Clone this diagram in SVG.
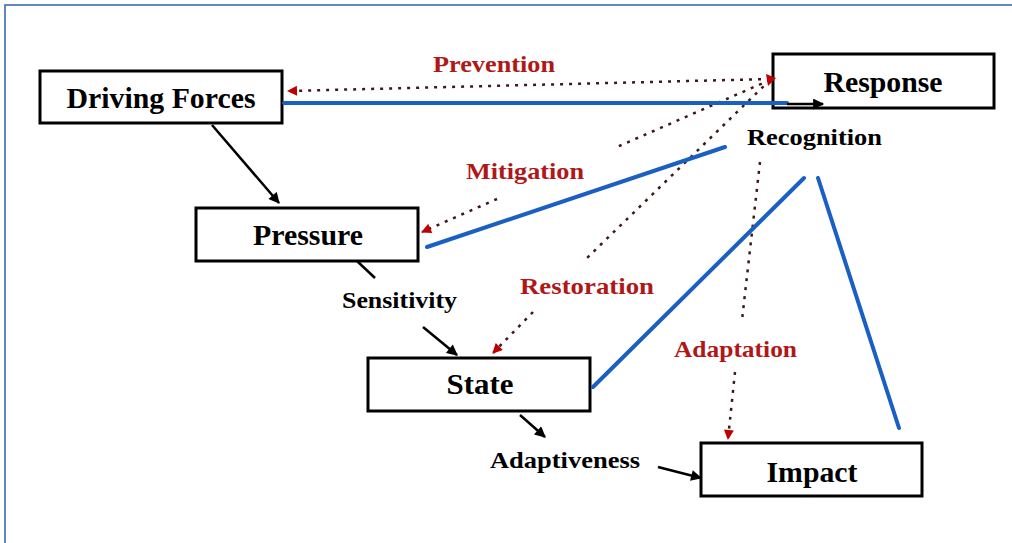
<svg xmlns="http://www.w3.org/2000/svg" width="1012" height="543" viewBox="0 0 1012 543">
<defs>
<style>
.box{fill:#fff;stroke:#000;stroke-width:3}
.nt{font-family:"Liberation Serif","Times New Roman",serif;font-weight:bold;font-size:29px;fill:#000;text-anchor:middle}
.lb{font-family:"Liberation Serif","Times New Roman",serif;font-weight:bold;font-size:24px;fill:#000}
.rl{font-family:"Liberation Serif","Times New Roman",serif;font-weight:bold;font-size:24px;fill:#b01818}
.blue{stroke:#1a5fc4;stroke-width:4;fill:none;stroke-linecap:round}
.blk{stroke:#000;stroke-width:2.5;fill:none}
.dot{stroke:#3e1818;stroke-width:2.5;fill:none;stroke-dasharray:3 6}
</style>
<marker id="ab" viewBox="0 0 10 10" refX="9" refY="5" markerWidth="13" markerHeight="11" markerUnits="userSpaceOnUse" orient="auto"><path d="M0,0 L10,5 L0,10 z" fill="#000"/></marker>
<marker id="ar" viewBox="0 0 10 10" refX="9" refY="5" markerWidth="11" markerHeight="10" markerUnits="userSpaceOnUse" orient="auto"><path d="M0,0 L10,5 L0,10 z" fill="#c00000"/></marker>
</defs>
<rect width="1012" height="543" fill="#fff"/>
<path d="M5,543 V5 H1012" fill="none" stroke="#3060b0" stroke-width="1.5"/>

<g id="driving-forces"><rect class="box" x="40" y="71" width="242" height="52"/><text class="nt" x="161" y="108" textLength="189" lengthAdjust="spacingAndGlyphs">Driving Forces</text></g>
<g id="response"><rect class="box" x="773" y="54" width="221" height="54"/><text class="nt" x="883" y="92" textLength="119" lengthAdjust="spacingAndGlyphs">Response</text></g>
<g id="pressure"><rect class="box" x="196" y="208" width="222" height="53"/><text class="nt" x="308" y="245" textLength="110" lengthAdjust="spacingAndGlyphs">Pressure</text></g>
<g id="state"><rect class="box" x="368" y="358" width="222" height="53"/><text class="nt" x="480" y="394" textLength="67" lengthAdjust="spacingAndGlyphs">State</text></g>
<g id="impact"><rect class="box" x="701" y="443" width="221" height="53"/><text class="nt" x="812" y="482" textLength="91" lengthAdjust="spacingAndGlyphs">Impact</text></g>

<g id="connectors">
<line class="dot" x1="770" y1="79" x2="288" y2="91" marker-end="url(#ar)"/>
<line class="dot" x1="770" y1="80" x2="617" y2="147"/>
<line class="dot" x1="497" y1="199" x2="422" y2="232" marker-end="url(#ar)"/>
<line class="dot" x1="770" y1="80" x2="587" y2="258"/>
<line class="dot" x1="533" y1="312" x2="493" y2="353" marker-end="url(#ar)"/>
<line class="dot" x1="760" y1="162" x2="742" y2="320"/>
<line class="dot" x1="735" y1="372" x2="728" y2="439" marker-end="url(#ar)"/>
<path d="M766,74 L776,78 L768,86 z" fill="#c00000"/>
<line class="blue" x1="284" y1="103" x2="787" y2="103"/>
<line class="blk" x1="787" y1="104" x2="823" y2="104" marker-end="url(#ab)"/>
<line class="blue" x1="427" y1="247" x2="725" y2="147"/>
<line class="blue" x1="593" y1="387" x2="804" y2="178"/>
<line class="blue" x1="818" y1="178" x2="899" y2="428"/>
<line class="blk" x1="212" y1="125" x2="279" y2="203" marker-end="url(#ab)"/>
<line class="blk" x1="357" y1="261" x2="375" y2="278"/>
<line class="blk" x1="423" y1="327" x2="457" y2="355" marker-end="url(#ab)"/>
<line class="blk" x1="520" y1="415" x2="545" y2="437" marker-end="url(#ab)"/>
<line class="blk" x1="658" y1="467" x2="701" y2="478" marker-end="url(#ab)"/>
</g>

<g id="labels">
<text class="lb" x="747" y="145" textLength="135" lengthAdjust="spacingAndGlyphs">Recognition</text>
<text class="lb" x="342" y="308" textLength="115" lengthAdjust="spacingAndGlyphs">Sensitivity</text>
<text class="lb" x="490" y="468" textLength="150" lengthAdjust="spacingAndGlyphs">Adaptiveness</text>
<text class="rl" x="433" y="72" textLength="122" lengthAdjust="spacingAndGlyphs">Prevention</text>
<text class="rl" x="466" y="179" textLength="118" lengthAdjust="spacingAndGlyphs">Mitigation</text>
<text class="rl" x="520" y="294" textLength="134" lengthAdjust="spacingAndGlyphs">Restoration</text>
<text class="rl" x="674" y="357" textLength="123" lengthAdjust="spacingAndGlyphs">Adaptation</text>
</g>
</svg>
